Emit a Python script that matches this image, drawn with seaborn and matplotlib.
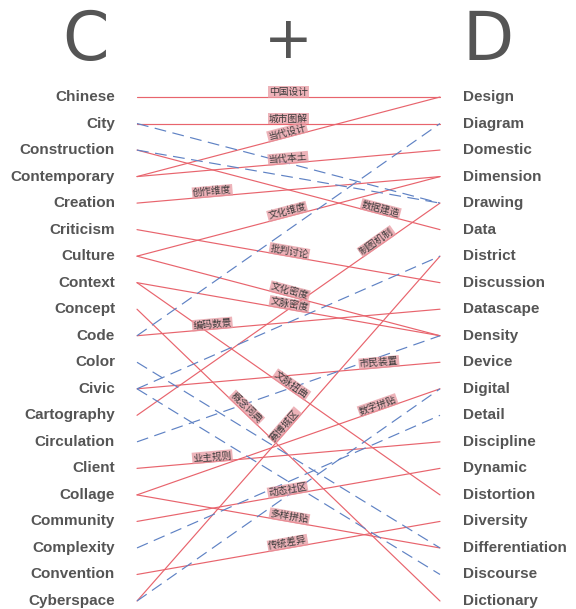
import math
import numpy as np
import pandas as pd
import matplotlib
matplotlib.use("Agg")
import matplotlib.pyplot as plt
import seaborn as sns
from matplotlib import font_manager

# ---------------- data ----------------
left_terms = ["Chinese", "City", "Construction", "Contemporary", "Creation",
              "Criticism", "Culture", "Context", "Concept", "Code", "Color",
              "Civic", "Cartography", "Circulation", "Client", "Collage",
              "Community", "Complexity", "Convention", "Cyberspace"]
right_terms = ["Design", "Diagram", "Domestic", "Dimension", "Drawing", "Data",
               "District", "Discussion", "Datascape", "Density", "Device",
               "Digital", "Detail", "Discipline", "Dynamic", "Distortion",
               "Diversity", "Differentiation", "Discourse", "Dictionary"]

conn_left = ["Chinese", "City", "City", "Construction", "Construction",
             "Contemporary", "Contemporary", "Creation", "Criticism",
             "Culture", "Culture", "Context", "Context", "Concept",
             "Code", "Code", "Color", "Civic", "Civic", "Civic",
             "Cartography", "Circulation", "Client", "Collage", "Collage",
             "Community", "Complexity", "Convention", "Cyberspace", "Cyberspace"]
conn_right = ["Design", "Diagram", "Drawing", "Data", "Drawing",
              "Design", "Domestic", "Dimension", "Discussion",
              "Dimension", "Density", "Density", "Distortion", "Dictionary",
              "Diagram", "Datascape", "Differentiation", "Device", "District", "Discourse",
              "Drawing", "Density", "Discipline", "Digital", "Differentiation",
              "Dynamic", "Detail", "Diversity", "District", "Digital"]
conn_kind = ["solid", "solid", "dashed", "solid", "dashed",
             "solid", "solid", "solid", "solid",
             "solid", "solid", "solid", "solid", "solid",
             "dashed", "solid", "dashed", "solid", "dashed", "dashed",
             "solid", "dashed", "solid", "solid", "solid",
             "solid", "dashed", "solid", "solid", "dashed"]

label_left = ["Chinese", "City", "Contemporary", "Contemporary", "Creation",
              "Culture", "Construction", "Cartography", "Criticism", "Culture",
              "Context", "Code", "Civic", "Context", "Concept", "Collage",
              "Cyberspace", "Client", "Community", "Collage", "Convention"]
label_right = ["Design", "Diagram", "Design", "Domestic", "Dimension",
               "Dimension", "Data", "Drawing", "Discussion", "Density",
               "Density", "Datascape", "Device", "Distortion", "Dictionary", "Digital",
               "District", "Discipline", "Dynamic", "Differentiation", "Diversity"]
label_text = ["中国设计", "城市图解", "当代设计", "当代本土", "创作维度",
              "文化维度", "数据建造", "制图机制", "批判讨论", "文化密度",
              "文脉密度", "编码数景", "市民装置", "文脉扭曲", "概念词典", "数字拼贴",
              "赛博城区", "业主规则", "动态社区", "多样拼贴", "传统差异"]
label_pos = [0.5, 0.5, 0.5, 0.5, 0.25,
             0.5, 0.8, 0.8, 0.5, 0.5,
             0.5, 0.25, 0.8, 0.5, 0.35, 0.8,
             0.5, 0.25, 0.5, 0.5, 0.5]

header = ["C", "+", "D"]

# ---------------- build table ----------------
rows = []
for i, (l, r, k) in enumerate(zip(conn_left, conn_right, conn_kind)):
    rows.append({"id": i, "x": 0.0, "y": left_terms.index(l), "kind": k})
    rows.append({"id": i, "x": 1.0, "y": right_terms.index(r), "kind": k})
df = pd.DataFrame(rows)

sns.set_theme(style="white")
available = {f.name for f in font_manager.fontManager.ttflist}
narrow = "Liberation Sans Narrow" if "Liberation Sans Narrow" in available else "DejaVu Sans"
plt.rcParams["font.family"] = ["Liberation Sans", "DejaVu Sans"]

W, H = 576, 609
fig = plt.figure(figsize=(W / 100, H / 100), dpi=100)
x0, x1 = 137, 440
ytop, ybot = 97, 601
row_px = (ybot - ytop) / 19
pad = 0.3
ax_top_px = ytop - pad * row_px
ax_bot_px = ybot + pad * row_px
ax = fig.add_axes([x0 / W, 1 - ax_bot_px / H, (x1 - x0) / W, (ax_bot_px - ax_top_px) / H])

RED = "#e8646d"
BLUE = "#5f82c4"
sns.lineplot(data=df, x="x", y="y", hue="kind", style="kind", units="id",
             estimator=None, sort=False, ax=ax, legend=False,
             palette={"solid": RED, "dashed": BLUE},
             dashes={"solid": "", "dashed": (10, 5.5)},
             linewidth=0.85)
for ln in ax.lines:
    ln.set_clip_on(False)

ax.set_xlim(0, 1)
ax.set_ylim(19 + pad, -pad)
ax.axis("off")

TXT = "#555555"
for i, t in enumerate(left_terms):
    ax.text(-0.0726, i, t, ha="right", va="center", fontsize=11,
            fontweight="bold", color=TXT)
for i, t in enumerate(right_terms):
    ax.text(1.076, i, t, ha="left", va="center", fontsize=11,
            fontweight="bold", color=TXT)

# header letters
for xp, t in zip([85, 288, 488], header):
    fig.text(xp / W, 1 - 41 / H, t, ha="center", va="center",
             fontsize=48 if t != "+" else 42, color=TXT, family=[narrow, "DejaVu Sans"],
             fontweight="normal")

fig.canvas.draw()
for l, r, txt, t in zip(label_left, label_right, label_text, label_pos):
    yl = left_terms.index(l)
    yr = right_terms.index(r)
    p1 = ax.transData.transform((0, yl))
    p2 = ax.transData.transform((1, yr))
    ang = math.degrees(math.atan2(p2[1] - p1[1], p2[0] - p1[0]))
    xp = t
    yp = yl + (yr - yl) * t
    ax.text(xp, yp, txt, rotation=ang, rotation_mode="anchor",
            ha="center", va="bottom", fontsize=7, color="#3a3a3a",
            family=["Noto Sans CJK SC", "DejaVu Sans"],
            bbox=dict(boxstyle="square,pad=0.08", fc="#e89aa2", ec="none", alpha=0.75))

fig.savefig("out.png", dpi=100)
